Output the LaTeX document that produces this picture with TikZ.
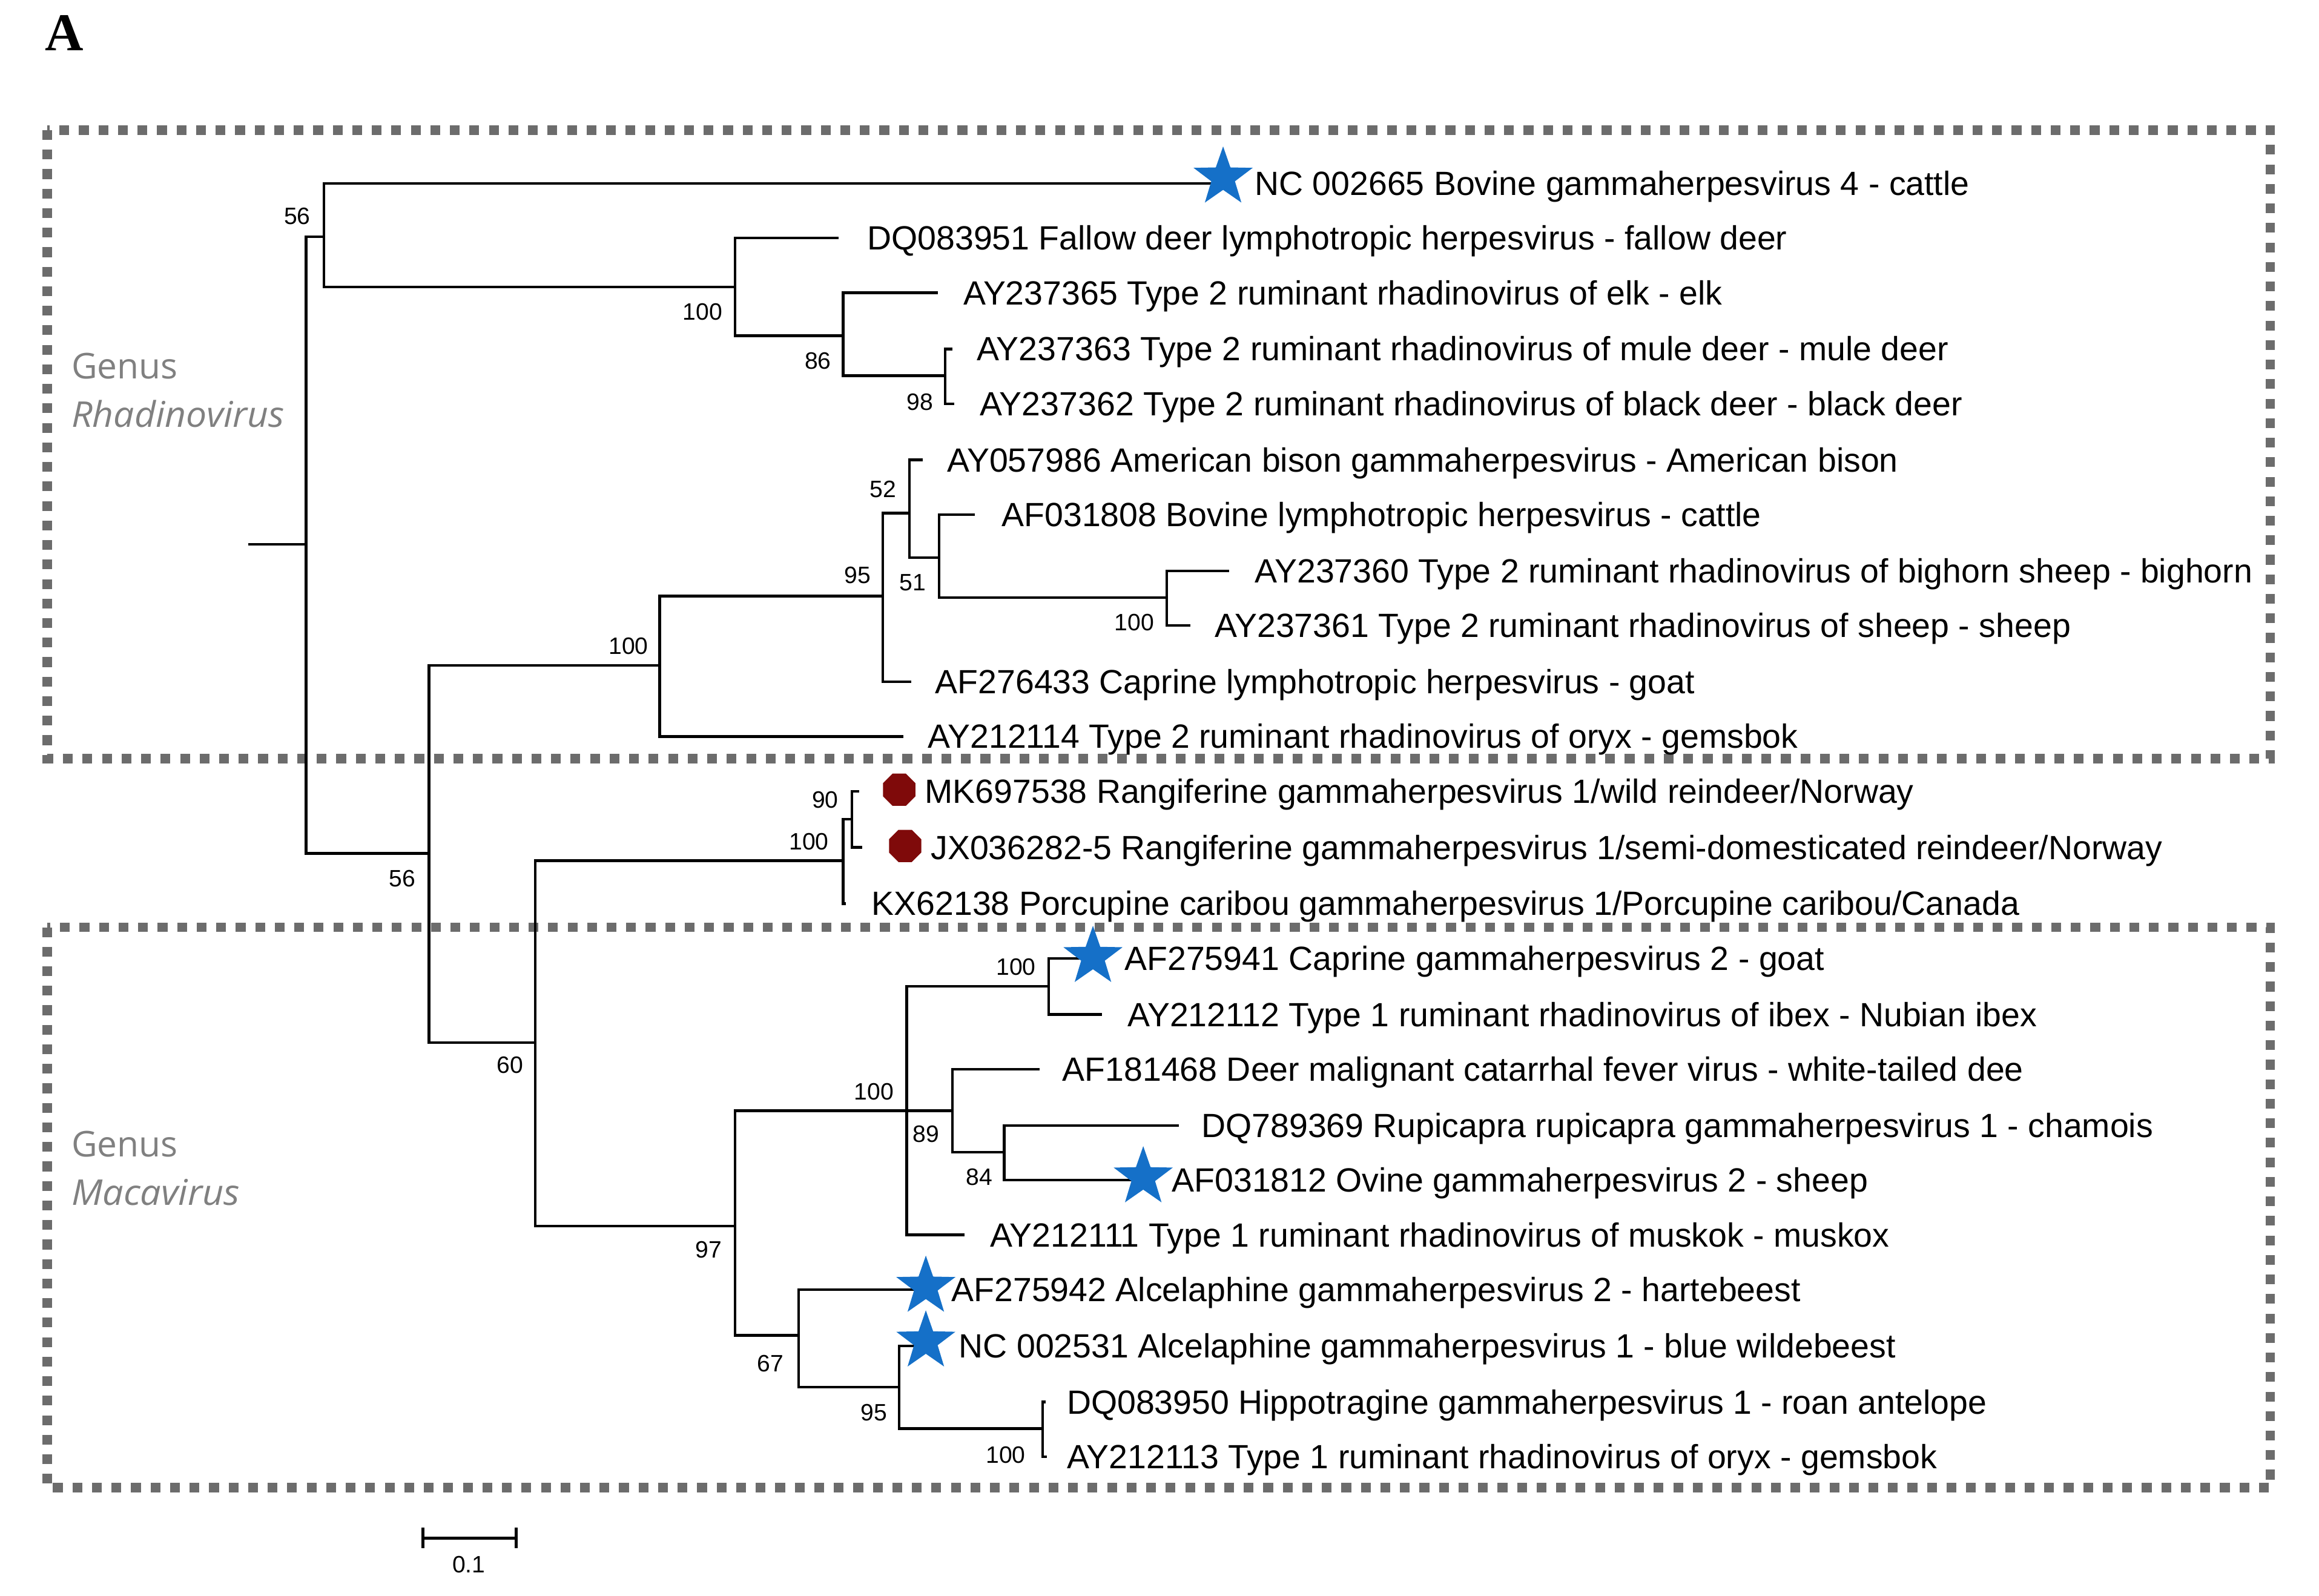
\documentclass[tikz,border=0pt]{standalone}
\usepackage{fontspec}
\setmainfont{Liberation Sans}
\newfontfamily\genusfont{Open Sans}
\newfontfamily\panelfont{Liberation Serif}
\usetikzlibrary{shapes.geometric}
\definecolor{boxgray}{HTML}{6C6C6C}
\definecolor{genusgray}{HTML}{808080}
\definecolor{starblue}{HTML}{1570C8}
\definecolor{dotred}{HTML}{7F0A0A}
\begin{document}
\begin{tikzpicture}[x=0.5pt,y=-0.5pt,
  branch/.style={line width=0.9pt, black},
  leaf/.style={anchor=base west, inner sep=0pt, yshift=-4pt, font=\fontsize{11.35}{13}\selectfont},
  boot/.style={inner sep=0pt, font=\fontsize{8}{9}\selectfont},
  cladebox/.style={draw=boxgray, line width=3.2pt, dash pattern=on 3.3pt off 3.3pt},
  genus/.style={anchor=base west, inner sep=0pt, text=genusgray, font=\genusfont\fontsize{12}{14}\selectfont},
  bluestar/.style={star, star points=5, star point ratio=2.5, fill=starblue, draw=none, minimum size=21pt, inner sep=0pt},
  reddot/.style={regular polygon, regular polygon sides=8, fill=dotred, draw=none, minimum size=11.8pt, inner sep=0pt},
]
\useasboundingbox (0,0) rectangle (1568,1078.8);

% panel letter
\node[anchor=base west, inner sep=0pt, font=\panelfont\bfseries\fontsize{18}{20}\selectfont] (pA) at (30,34) {A};

% clade boxes
\draw[cladebox] (32,88) rectangle (1535,513);
\draw[cladebox] (32,627) rectangle (1535,1006);
\node[genus] (g1) at (48,256) {Genus};
\node[genus] (g1b) at (48,289) {\scalebox{1.035}[1]{\itshape Rhadinovirus}};
\node[genus] (g2) at (48,782) {Genus};
\node[genus] (g2b) at (48,815) {\scalebox{1.045}[1]{\itshape Macavirus}};

% internal nodes
\coordinate (R0) at (168,368);
\coordinate (R) at (207,368);
\coordinate (N56a) at (219,160);
\coordinate (N100a) at (497,194);
\coordinate (N86) at (570,227);
\coordinate (N98) at (639,254);
\coordinate (N56b) at (290,577);
\coordinate (N100b) at (446,450);
\coordinate (N95) at (597,403);
\coordinate (N52) at (615,347);
\coordinate (N51) at (635,377);
\coordinate (N100c) at (789,404);
\coordinate (N60) at (362,705);
\coordinate (N100d) at (570,582);
\coordinate (N90) at (576,554);
\coordinate (N97) at (497,829);
\coordinate (N100e) at (613,751);
\coordinate (N89) at (644,751);
\coordinate (N100f) at (709,667);
\coordinate (N84) at (679,779);
\coordinate (N67) at (540,903);
\coordinate (N95b) at (608,938);
\coordinate (N100g) at (705,966);

% leaf ends
\coordinate (L1) at (827,124);
\coordinate (L2) at (567,161);
\coordinate (L3) at (634,198);
\coordinate (L4) at (644,236);
\coordinate (L5) at (645,273);
\coordinate (L6) at (624,311);
\coordinate (L7) at (659,348);
\coordinate (L8) at (831,386);
\coordinate (L9) at (805,423);
\coordinate (L10) at (616,461);
\coordinate (L11) at (611,498);
\coordinate (L12) at (581,535);
\coordinate (L13) at (583,573);
\coordinate (L14) at (572,611);
\coordinate (L15) at (739,648);
\coordinate (L16) at (745,686);
\coordinate (L17) at (703,723);
\coordinate (L18) at (797,761);
\coordinate (L19) at (773,798);
\coordinate (L20) at (652,835);
\coordinate (L21) at (626,872);
\coordinate (L22) at (626,910);
\coordinate (L23) at (707,948);
\coordinate (L24) at (708,985);

% branches
\draw[branch] (R0) -- (R);
\draw[branch] (R) |- (N56a);
\draw[branch] (R) |- (N56b);
\draw[branch] (N56a) |- (L1);
\draw[branch] (N56a) |- (N100a);
\draw[branch] (N100a) |- (L2);
\draw[branch] (N100a) |- (N86);
\draw[branch] (N86) |- (L3);
\draw[branch] (N86) |- (N98);
\draw[branch] (N98) |- (L4);
\draw[branch] (N98) |- (L5);
\draw[branch] (N56b) |- (N100b);
\draw[branch] (N56b) |- (N60);
\draw[branch] (N100b) |- (N95);
\draw[branch] (N100b) |- (L11);
\draw[branch] (N95) |- (N52);
\draw[branch] (N95) |- (L10);
\draw[branch] (N52) |- (L6);
\draw[branch] (N52) |- (N51);
\draw[branch] (N51) |- (L7);
\draw[branch] (N51) |- (N100c);
\draw[branch] (N100c) |- (L8);
\draw[branch] (N100c) |- (L9);
\draw[branch] (N60) |- (N100d);
\draw[branch] (N60) |- (N97);
\draw[branch] (N100d) |- (N90);
\draw[branch] (N100d) |- (L14);
\draw[branch] (N90) |- (L12);
\draw[branch] (N90) |- (L13);
\draw[branch] (N97) |- (N100e);
\draw[branch] (N97) |- (N67);
\draw[branch] (N100e) |- (N100f);
\draw[branch] (N100e) |- (N89);
\draw[branch] (N100e) |- (L20);
\draw[branch] (N100f) |- (L15);
\draw[branch] (N100f) |- (L16);
\draw[branch] (N89) |- (L17);
\draw[branch] (N89) |- (N84);
\draw[branch] (N84) |- (L18);
\draw[branch] (N84) |- (L19);
\draw[branch] (N67) |- (L21);
\draw[branch] (N67) |- (N95b);
\draw[branch] (N95b) |- (L22);
\draw[branch] (N95b) |- (N100g);
\draw[branch] (N100g) |- (L23);
\draw[branch] (N100g) |- (L24);

% markers
\node[bluestar] (s1) at (827,120) {};
\node[bluestar] (s15) at (739,647) {};
\node[bluestar] (s19) at (773,796) {};
\node[bluestar] (s21) at (626,870) {};
\node[bluestar] (s22) at (626,907) {};
\node[reddot] (d12) at (608,534) {};
\node[reddot] (d13) at (612,572) {};

% bootstrap values
\node[boot] (b1) at (201,146) {56};
\node[boot] (b2) at (475,211) {100};
\node[boot] (b3) at (553,244) {86};
\node[boot] (b4) at (622,272) {98};
\node[boot] (b5) at (597,331) {52};
\node[boot] (b6) at (580,389) {95};
\node[boot] (b7) at (617,394) {51};
\node[boot] (b8) at (767,421) {100};
\node[boot] (b9) at (425,437) {100};
\node[boot] (b10) at (272,594) {56};
\node[boot] (b11) at (558,541) {90};
\node[boot] (b12) at (547,569) {100};
\node[boot] (b13) at (345,720) {60};
\node[boot] (b14) at (687,654) {100};
\node[boot] (b15) at (591,738) {100};
\node[boot] (b16) at (626,767) {89};
\node[boot] (b17) at (662,796) {84};
\node[boot] (b18) at (479,845) {97};
\node[boot] (b19) at (521,922) {67};
\node[boot] (b20) at (591,955) {95};
\node[boot] (b21) at (680,984) {100};

% leaf labels
\node[leaf] (t1) at (848,124) {NC 002665 Bovine gammaherpesvirus 4 - cattle};
\node[leaf] (t2) at (586,161) {DQ083951 Fallow deer lymphotropic herpesvirus - fallow deer};
\node[leaf] (t3) at (651,198) {AY237365 Type 2 ruminant rhadinovirus of elk - elk};
\node[leaf] (t4) at (660,236) {AY237363 Type 2 ruminant rhadinovirus of mule deer - mule deer};
\node[leaf] (t5) at (662,273) {AY237362 Type 2 ruminant rhadinovirus of black deer - black deer};
\node[leaf] (t6) at (640,311) {AY057986 American bison gammaherpesvirus - American bison};
\node[leaf] (t7) at (677,348) {AF031808 Bovine lymphotropic herpesvirus - cattle};
\node[leaf] (t8) at (848,386) {AY237360 Type 2 ruminant rhadinovirus of bighorn sheep - bighorn};
\node[leaf] (t9) at (821,423) {AY237361 Type 2 ruminant rhadinovirus of sheep - sheep};
\node[leaf] (t10) at (632,461) {AF276433 Caprine lymphotropic herpesvirus - goat};
\node[leaf] (t11) at (627,498) {AY212114 Type 2 ruminant rhadinovirus of oryx - gemsbok};
\node[leaf] (t12) at (625,535) {MK697538 Rangiferine gammaherpesvirus 1/wild reindeer/Norway};
\node[leaf] (t13) at (629,573) {JX036282-5 Rangiferine gammaherpesvirus 1/semi-domesticated reindeer/Norway};
\node[leaf] (t14) at (589,611) {KX62138 Porcupine caribou gammaherpesvirus 1/Porcupine caribou/Canada};
\node[leaf] (t15) at (760,648) {AF275941 Caprine gammaherpesvirus 2 - goat};
\node[leaf] (t16) at (762,686) {AY212112 Type 1 ruminant rhadinovirus of ibex - Nubian ibex};
\node[leaf] (t17) at (718,723) {AF181468 Deer malignant catarrhal fever virus - white-tailed dee};
\node[leaf] (t18) at (812,761) {DQ789369 Rupicapra rupicapra gammaherpesvirus 1 - chamois};
\node[leaf] (t19) at (792,798) {AF031812 Ovine gammaherpesvirus 2 - sheep};
\node[leaf] (t20) at (669,835) {AY212111 Type 1 ruminant rhadinovirus of muskok - muskox};
\node[leaf] (t21) at (643,872) {AF275942 Alcelaphine gammaherpesvirus 2 - hartebeest};
\node[leaf] (t22) at (648,910) {NC 002531 Alcelaphine gammaherpesvirus 1 - blue wildebeest};
\node[leaf] (t23) at (721,948) {DQ083950 Hippotragine gammaherpesvirus 1 - roan antelope};
\node[leaf] (t24) at (721,985) {AY212113 Type 1 ruminant rhadinovirus of oryx - gemsbok};

% scale bar
\coordinate (sb1) at (286,1040);
\coordinate (sb2) at (349,1040);
\draw[branch] (sb1) -- (sb2);
\draw[branch] ([yshift=3.5pt]sb1) -- ([yshift=-3.5pt]sb1);
\draw[branch] ([yshift=3.5pt]sb2) -- ([yshift=-3.5pt]sb2);
\node[boot] (sbl) at (317,1058) {0.1};
\end{tikzpicture}
\end{document}
